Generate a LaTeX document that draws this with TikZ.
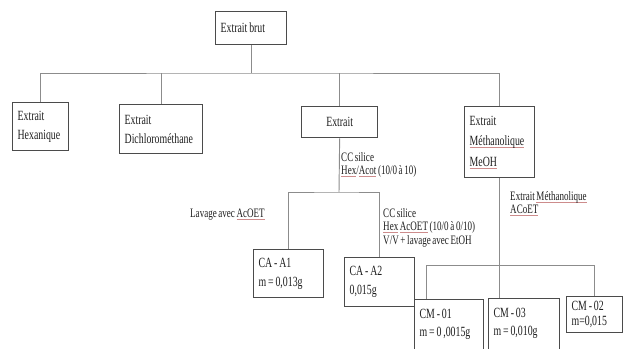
\documentclass[tikz,border=0pt]{standalone}
\usepackage{fontspec}
\setmainfont{Liberation Serif}[FakeStretch=0.7, WordSpace=0.75]
\usetikzlibrary{positioning, calc}

\definecolor{bordure}{RGB}{75,75,75}
\definecolor{trait}{RGB}{140,140,140}
\definecolor{encre}{RGB}{30,30,30}
\definecolor{soulign}{RGB}{205,140,140}

% mots soulignés (correcteur)
\newcommand{\souligne}[1]{\leavevmode\setbox0=\hbox{#1}\rlap{\textcolor{soulign}{\rule[-1.8pt]{\wd0}{0.5pt}}}\box0\relax}

\begin{document}
\begin{tikzpicture}[x=0.03cm, y=-0.03cm,
            % Styles des noeuds
            boite/.style={rectangle, draw=bordure, line width=1.1pt, anchor=north west, align=flush left, text=encre, inner xsep=0.15cm, inner ysep=0pt, font=\fontsize{12}{16}\selectfont},
            note/.style={anchor=north west, align=left, text=encre, inner sep=0pt, font=\fontsize{11}{11.5}\selectfont},
            lien/.style={draw=trait, line width=0.8pt}
        ]

            \useasboundingbox (0,0) rectangle (623,349);

            % Extraits
            \node[boite, text width=1.83cm, minimum height=0.99cm] (brut) at (215,11) {Extrait brut};
            \node[boite, text width=1.38cm, minimum height=1.44cm] (hex) at (12,102) {Extrait\\ Hexanique};
            \node[boite, text width=2.19cm, minimum height=1.47cm] (dcm) at (119,104) {Extrait\\ Dichlorométhane};
            \node[boite, text width=1.98cm, minimum height=0.93cm, align=center] (ext) at (301,106) {Extrait};
            \node[boite, text width=1.80cm, minimum height=2.13cm, font=\fontsize{12}{17.5}\selectfont] (meoh) at (464,106) {Extrait\\ \souligne{Méthanolique}\\ \souligne{MeOH}};

            % Fractions
            \node[boite, text width=1.80cm, minimum height=1.44cm] (ca1) at (253,249) {CA - A1\\ m = 0,013g};
            \node[boite, text width=1.80cm, minimum height=1.47cm] (ca2) at (344,257) {CA - A2\\ 0,015g};
            \node[boite, text width=1.77cm, text height=0.555cm, text depth=1.2cm] (cm01) at (414,299) {CM - 01\\ m~=~0~,0015g};
            \node[boite, text width=1.83cm, text height=0.555cm, text depth=1.2cm] (cm03) at (488,298) {CM - 03\\ m = 0,010g};
            \node[boite, text width=1.38cm, minimum height=1.08cm, font=\fontsize{12}{13}\selectfont] (cm02) at (566,296) {CM - 02\\ m=0,015};

            % Conditions
            \node[note] (silice1) at (341,152) {CC silice\\ \souligne{Hex}/\souligne{Acot} (10/0 à 10)};
            \node[note, anchor=west] (lavage) at (190,215) {Lavage avec \souligne{AcOET}};
            \node[note] (silice2) at (383,208) {CC silice\\ \souligne{Hex} \souligne{AcOET} (10/0 à 0/10)\\ V/V + lavage avec EtOH};
            \node[note] (methano) at (510,191) {Extrait \souligne{Méthanolique}\\ \souligne{ACoET}};

            % Liaisons
            \coordinate (bus) at (250,73);
            \draw[lien] (brut.south) -- (brut.south |- bus);
            \draw[lien] (hex.north) |- (bus) -| (meoh.north);
            \draw[lien] (dcm.north) -- (dcm.north |- bus);
            \draw[lien] (ext.north) -- (ext.north |- bus);

            \coordinate (bras) at (339,192);
            \draw[lien] (ext.south) -- (bras);
            \draw[lien] (ca1.north) |- (bras) -| (ca2.north);

            \coordinate (fourche) at (426,265);
            \draw[lien] (meoh.south) -- (meoh.south |- cm03.north);
            \draw[lien] (fourche |- cm01.north) -- (fourche) -| (cm02.north);
        \end{tikzpicture}
\end{document}
